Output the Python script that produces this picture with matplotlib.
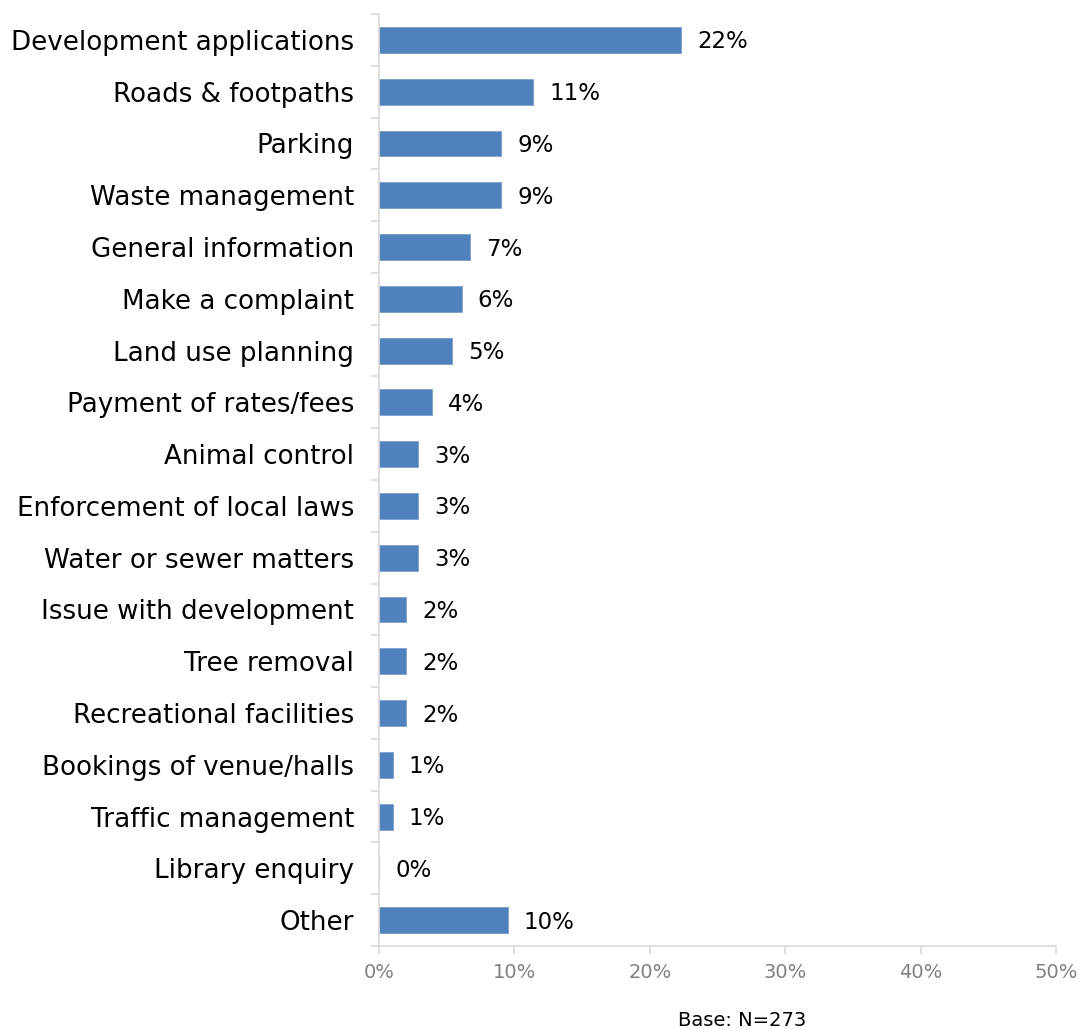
import matplotlib
matplotlib.use("Agg")
import matplotlib.pyplot as plt
from matplotlib.ticker import FuncFormatter
import numpy as np

categories = [
    "Development applications", "Roads & footpaths", "Parking", "Waste management",
    "General information", "Make a complaint", "Land use planning", "Payment of rates/fees",
    "Animal control", "Enforcement of local laws", "Water or sewer matters",
    "Issue with development", "Tree removal", "Recreational facilities",
    "Bookings of venue/halls", "Traffic management", "Library enquiry", "Other",
]
values = [22.3, 11.4, 9.0, 9.0, 6.7, 6.1, 5.4, 3.9, 2.9, 2.9, 2.9, 2.0, 2.0, 2.0, 1.0, 1.0, 0.0, 9.5]
x_ticks = [0, 10, 20, 30, 40, 50]
base_note = "Base: N=273"

plt.rcParams['font.family'] = ['DejaVu Sans']

fig = plt.figure(figsize=(10.78, 10.29), dpi=100)
ax = fig.add_axes([379/1078, 1 - 946/1029, (1056-379)/1078, (946-14)/1029])

y = np.arange(len(categories))
ax.barh(y, values, height=0.5, color="#4F81BD", edgecolor="#7BA0CD", linewidth=0.6)
for yi, v in zip(y, values):
    ax.text(v + 1.2, yi + 0.04, f"{round(v):.0f}%", va="center", ha="left",
            fontsize=16.5, color="#000000")

ax.set_ylim(len(categories) - 0.5, -0.5)
ax.set_xlim(0, 50)
ax.set_yticks(y)
ax.set_yticklabels(categories, fontsize=18.8, color="#000000")
ax.set_yticks(np.arange(len(categories) + 1) - 0.5, minor=True)
ax.tick_params(axis="y", which="major", length=0, pad=18)
ax.tick_params(axis="y", which="minor", length=6, color="#D9D9D9", width=1.2)
ax.set_xticks(x_ticks)
ax.xaxis.set_major_formatter(FuncFormatter(lambda v, p: f"{v:.0f}%"))
ax.tick_params(axis="x", length=6, color="#D9D9D9", width=1.2, labelsize=14,
               labelcolor="#808080", pad=6)

for s in ["top", "right"]:
    ax.spines[s].set_visible(False)
for s in ["left", "bottom"]:
    ax.spines[s].set_color("#D9D9D9")
    ax.spines[s].set_linewidth(1.2)

fig.text(742/1078, 1 - 1020/1029, base_note, ha="center", va="center", fontsize=14, color="#000000")

fig.savefig("out.png", dpi=100, facecolor="white")
